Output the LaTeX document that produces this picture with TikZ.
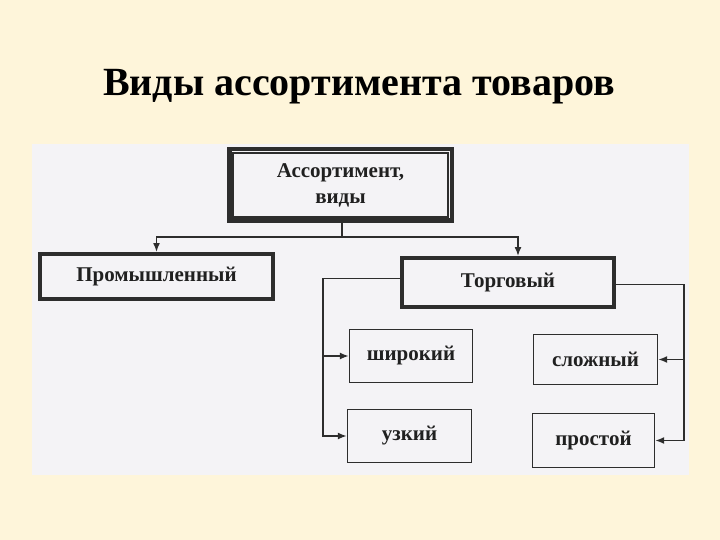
\documentclass[tikz,border=0pt]{standalone}
\usepackage{fontspec}
\setmainfont{Liberation Serif}
\usetikzlibrary{arrows.meta, positioning, calc}
\definecolor{cream}{RGB}{254,245,218}
\definecolor{scan}{RGB}{244,243,246}
\definecolor{ink}{RGB}{45,45,45}

\begin{document}
\begin{tikzpicture}[x=1pt, y=-1pt,
    boxtext/.style={font=\fontsize{21}{26}\selectfont\bfseries, text=ink!70!black, align=center, inner sep=0pt},
    rootbox/.style={boxtext, draw=ink, line width=4.5pt, fill=scan},
    mainbox/.style={boxtext, draw=ink, line width=4pt, fill=scan},
    subbox/.style={boxtext, draw=ink, line width=1.4pt, fill=scan},
    conn/.style={draw=ink, line width=1.5pt},
    arr/.style={conn, -{Latex[length=9pt, width=7pt]}}]

  % page and scanned sheet
  \fill[cream] (0, 0) rectangle (720, 540);
  \useasboundingbox (0, 0) rectangle (720, 540);
  \fill[scan] (32, 144) rectangle (689, 475);

  \node[font=\fontsize{40}{46}\selectfont\bfseries, anchor=base] (title) at (359, 96) {Виды ассортимента товаров};

  \node[rootbox, minimum width=222.5pt, minimum height=71.5pt] (root) at (340.5, 185) {Ассортимент,\\виды};
  \draw[ink, line width=1.5pt] ([shift={(6pt,-6pt)}]root.north west) rectangle ([shift={(-6pt,6pt)}]root.south east);

  \node[mainbox, minimum width=233pt, minimum height=45pt] (prom) at (156.5, 276.5) {Промышленный};
  \node[mainbox, minimum width=212pt, minimum height=49pt] (torg) at (508, 282.5) {Торговый};

  \node[subbox, minimum width=123pt, minimum height=53pt] (shir) at (411, 356) {широкий};
  \node[subbox, minimum width=124pt, minimum height=53pt] (uzk) at (409.5, 436) {узкий};
  \node[subbox, minimum width=124pt, minimum height=50pt] (slozh) at (595.5, 359.5) {сложный};
  \node[subbox, minimum width=122pt, minimum height=54pt] (prost) at (593.5, 440.5) {простой};

  \coordinate (split) at (342, 237);
  \coordinate (lbus) at (323, 0);
  \coordinate (rbus) at (684, 0);

  \draw[conn] (root.south -| split) -- (split);
  \draw[arr] (split) -| (prom.north);
  \draw[arr] (split) -| ([xshift=10pt]torg.north);

  \draw[arr] ([yshift=4pt]torg.west) -| (lbus |- uzk.west) -- (uzk.west);
  \draw[arr] (lbus |- shir.west) -- (shir.west);
  \draw[arr] ([yshift=-2pt]torg.east) -| (rbus |- prost.east) -- (prost.east);
  \draw[arr] (rbus |- slozh.east) -- (slozh.east);
\end{tikzpicture}
\end{document}
